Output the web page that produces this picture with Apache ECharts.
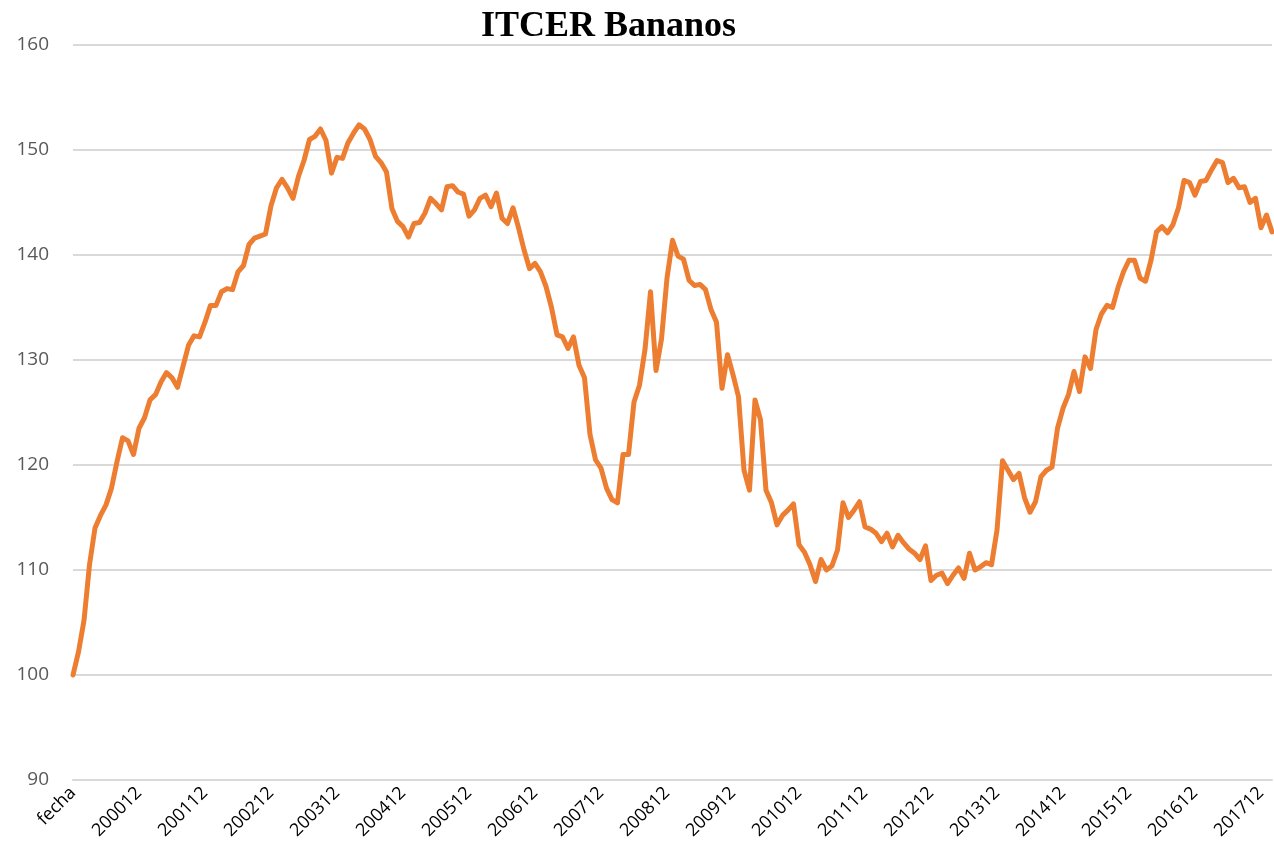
<!DOCTYPE html>
<html>
<head>
<meta charset="utf-8">
<title>ITCER Bananos</title>
<script src="https://cdn.jsdelivr.net/npm/echarts@6/dist/echarts.min.js"></script>
<style>
html, body { margin: 0; padding: 0; background: #fff; }
#main { width: 1274px; height: 863px; }
</style>
</head>
<body>
<div id="main"></div>
<script>
// ITCER Bananos, índice mensual (base = 100 en "fecha")
var firstLabel = 'fecha';
var startYear = 2000, endYear = 2018, endMonth = 2;

// valores, por tramos
var tramo1 = [100, 102.2, 105.2, 110.5, 114, 115.2, 116.2, 117.8, 120.3, 122.6, 122.3, 121,
  123.5, 124.5, 126.2, 126.7, 127.9, 128.8, 128.3, 127.4, 129.4, 131.4, 132.3, 132.2,
  133.6, 135.2, 135.2, 136.5, 136.8, 136.7, 138.4, 139, 141, 141.6, 141.8, 142];
var tramo2 = [144.7, 146.4, 147.2, 146.4, 145.4, 147.5, 149, 151, 151.3, 152, 150.9, 147.8,
  149.3, 149.2, 150.7, 151.6, 152.4, 152, 151, 149.4, 148.8, 147.9, 144.4, 143.2,
  142.7, 141.7, 143, 143.1, 144, 145.4, 144.9, 144.3, 146.5, 146.6, 146, 145.8];
var tramo3 = [143.7, 144.3, 145.4, 145.7, 144.6, 145.9, 143.5, 143, 144.5, 142.6, 140.5, 138.7,
  139.2, 138.4, 137, 135, 132.4, 132.2, 131.1, 132.2, 129.5, 128.3, 122.9, 120.5,
  119.7, 117.8, 116.7, 116.4, 121, 121, 126, 127.6, 131, 136.5, 129, 132];
var tramo4 = [137.8, 141.4, 139.9, 139.6, 137.6, 137.1, 137.2, 136.7, 134.8, 133.6, 127.3, 130.5,
  128.6, 126.5, 119.5, 117.6, 126.2, 124.3, 117.6, 116.4, 114.3, 115.2, 115.7, 116.3,
  112.4, 111.7, 110.5, 108.9, 111, 110, 110.4, 111.9, 116.4, 115, 115.7, 116.5];
var tramo5 = [114.1, 113.9, 113.5, 112.7, 113.5, 112.2, 113.3, 112.6, 112, 111.6, 111, 112.3,
  109, 109.5, 109.7, 108.7, 109.5, 110.2, 109.2, 111.6, 110, 110.3, 110.7, 110.5,
  113.8, 120.4, 119.5, 118.6, 119.2, 116.9, 115.5, 116.5, 118.9, 119.5, 119.8, 123.5];
var tramo6 = [125.4, 126.7, 128.9, 127, 130.3, 129.2, 132.9, 134.4, 135.2, 135, 136.9, 138.4,
  139.5, 139.5, 137.8, 137.5, 139.5, 142.2, 142.7, 142.1, 142.9, 144.5, 147.1, 146.9,
  145.7, 147, 147.1, 148.1, 149, 148.8, 146.9, 147.3, 146.4, 146.5, 145, 145.4,
  142.6, 143.8, 142.2];

var valores = tramo1.concat(tramo2, tramo3, tramo4, tramo5, tramo6);

// etiquetas AAAAMM
var fechas = [firstLabel];
for (var y = startYear; y <= endYear; y++) {
  for (var m = 1; m <= 12; m++) {
    if (y === endYear && m > endMonth) break;
    fechas.push('' + y + (m < 10 ? '0' + m : m));
  }
}

var yTicks = { min: 90, max: 160, step: 10 };

var myChart = echarts.init(document.getElementById('main'));
myChart.setOption({
  animation: false,
  title: {
    text: 'ITCER Bananos',
    left: 476,
    top: 4,
    textStyle: {
      fontFamily: 'Liberation Serif',
      fontWeight: 'bold',
      fontSize: 36,
      color: '#000'
    }
  },
  grid: { left: 73, right: 2, top: 45, bottom: 83 },
  xAxis: {
    type: 'category',
    data: fechas,
    boundaryGap: false,
    axisLine: { show: true, lineStyle: { color: '#d9d9d9', width: 2 } },
    axisTick: { show: false },
    axisLabel: {
      interval: 11,
      rotate: 45,
      margin: 10,
      fontFamily: 'Open Sans',
      fontSize: 18,
      color: '#000'
    }
  },
  yAxis: {
    type: 'value',
    min: yTicks.min,
    max: yTicks.max,
    interval: yTicks.step,
    axisLine: { show: false },
    axisTick: { show: false },
    splitLine: { lineStyle: { color: '#d9d9d9', width: 2 } },
    axisLabel: {
      margin: 24,
      fontFamily: 'Open Sans',
      fontSize: 19,
      color: '#595959'
    }
  },
  series: [{
    name: 'ITCER Bananos',
    type: 'line',
    data: valores,
    showSymbol: false,
    lineStyle: { color: '#ED7D31', width: 5, join: 'round', cap: 'round' },
    itemStyle: { color: '#ED7D31' }
  }]
});
</script>
</body>
</html>
